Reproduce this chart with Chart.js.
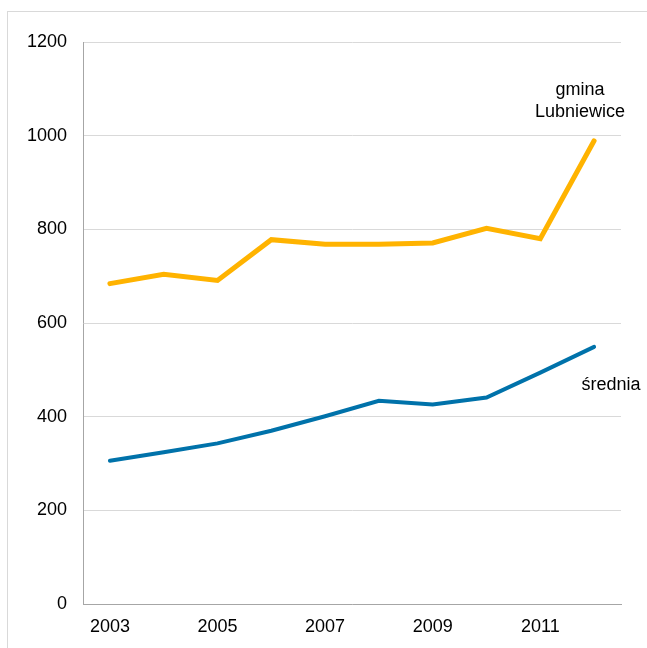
<!DOCTYPE html>
<html>
<head>
<meta charset="utf-8">
<script src="https://cdn.jsdelivr.net/npm/chart.js@4"></script>
<style>
  body { margin: 0; background: #fff; }
  #wrap { width: 647px; height: 648px; position: relative; }
</style>
</head>
<body>
<div id="wrap"><canvas id="myChart"></canvas></div>
<script>
// data
const years = ['2003', '2004', '2005', '2006', '2007', '2008', '2009', '2010', '2011', '2012'];
const lubniewice = [684, 704, 691, 778, 768, 768, 771, 802, 780, 989];
const srednia = [306, 324, 343, 370, 401, 434, 426, 441, 494, 549];
const yTicks = [0, 200, 400, 600, 800, 1000, 1200];

const FONT = "'Liberation Sans', Arial, sans-serif";

// frame + line names
const extras = {
  id: 'extras',
  beforeDraw(chart) {
    const ctx = chart.ctx;
    ctx.save();
    ctx.fillStyle = '#fff';
    ctx.fillRect(0, 0, chart.width, chart.height);
    ctx.strokeStyle = '#d9d9d9';
    ctx.lineWidth = 1;
    ctx.strokeRect(7.5, 11.5, 700, 700);
    ctx.restore();
  },
  afterDraw(chart) {
    const ctx = chart.ctx;
    ctx.save();
    ctx.fillStyle = '#000';
    ctx.font = '18px ' + FONT;
    ctx.textAlign = 'center';
    ctx.textBaseline = 'alphabetic';
    ctx.fillText('gmina', 580, 95);
    ctx.fillText('Lubniewice', 580, 117);
    ctx.fillText('średnia', 611, 390);
    ctx.restore();
  }
};

let element = document.querySelector('#myChart').getContext('2d');
let chart_output = new Chart(element, {
  type: 'line',
  data: {
    labels: years,
    datasets: [
      {
        label: 'gmina Lubniewice',
        data: lubniewice,
        borderColor: '#ffb300',
        borderWidth: 5,
        pointRadius: 0,
        tension: 0,
        borderCapStyle: 'round'
      },
      {
        label: 'średnia',
        data: srednia,
        borderColor: '#0072aa',
        borderWidth: 4,
        pointRadius: 0,
        tension: 0,
        borderCapStyle: 'round'
      }
    ]
  },
  options: {
    responsive: true,
    maintainAspectRatio: false,
    animation: false,
    layout: { padding: { top: 42, right: 26, bottom: 0, left: 0 } },
    plugins: {
      legend: { display: false },
      tooltip: { enabled: false }
    },
    scales: {
      x: {
        offset: true,
        grid: { display: false, drawTicks: false },
        border: { display: true, color: '#a6a6a6', width: 1 },
        ticks: {
          autoSkip: false,
          maxRotation: 0,
          padding: 12,
          color: '#000',
          font: { family: FONT, size: 18 },
          callback: function (val, i) { return i % 2 === 0 ? years[i] : ''; }
        },
        afterFit: function (scale) { scale.height = 44; }
      },
      y: {
        min: yTicks[0],
        max: yTicks[yTicks.length - 1],
        grid: { color: '#d9d9d9', lineWidth: 1, drawTicks: false },
        border: { display: true, color: '#a6a6a6', width: 1 },
        ticks: {
          stepSize: 200,
          padding: 16,
          color: '#000',
          font: { family: FONT, size: 18 },
          callback: function (val) { return String(val); }
        },
        afterBuildTicks: function (scale) { scale.ticks = yTicks.map(v => ({ value: v })); },
        afterFit: function (scale) { scale.width = 83; }
      }
    }
  },
  plugins: [extras]
});
</script>
</body>
</html>
